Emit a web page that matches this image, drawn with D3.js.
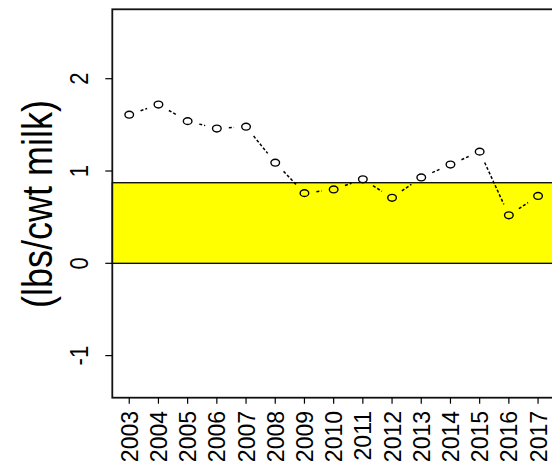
<!DOCTYPE html>
<html>
<head>
<meta charset="utf-8">
<script src="https://cdn.jsdelivr.net/npm/d3@7"></script>
<style>
  html, body { margin: 0; padding: 0; background: #fff; }
  svg { display: block; }
  text { font-family: "Liberation Sans", Arial, sans-serif; fill: #000; }
</style>
</head>
<body>
<svg id="chart" width="552" height="464"></svg>
<script>
// Yearly values (lbs/cwt milk)
const years = [2003, 2004, 2005, 2006, 2007, 2008, 2009, 2010, 2011, 2012, 2013, 2014, 2015, 2016, 2017];
const values = [1.61, 1.72, 1.54, 1.46, 1.48, 1.09, 0.76, 0.80, 0.91, 0.71, 0.93, 1.07, 1.21, 0.52, 0.73];
// Target band
const bandLow = 0;
const bandHigh = 0.873;
const yTicks = [-1, 0, 1, 2];

const svg = d3.select("#chart");

const plot = { left: 112.3, right: 555, top: 9.3, bottom: 397.7 };

const x = d3.scaleLinear()
  .domain([years[0] - 0.58, years[years.length - 1] + 0.58])
  .range([plot.left, plot.right]);
const y = d3.scaleLinear()
  .domain([-1.456, 2.752])
  .range([plot.bottom, plot.top]);

// Target band
svg.append("rect")
  .attr("x", plot.left)
  .attr("y", y(bandHigh))
  .attr("width", plot.right - plot.left)
  .attr("height", y(bandLow) - y(bandHigh))
  .attr("fill", "#ffff00")
  .attr("stroke", "#000")
  .attr("stroke-width", 1.3);

// Plot frame
svg.append("rect")
  .attr("x", plot.left)
  .attr("y", plot.top)
  .attr("width", plot.right - plot.left)
  .attr("height", plot.bottom - plot.top)
  .attr("fill", "none")
  .attr("stroke", "#111")
  .attr("stroke-width", 1.8);

// Y axis ticks and labels (parallel to axis)
const yAxis = svg.append("g");
yAxis.selectAll("line").data(yTicks).join("line")
  .attr("x1", plot.left - 7).attr("x2", plot.left)
  .attr("y1", d => y(d)).attr("y2", d => y(d))
  .attr("stroke", "#000").attr("stroke-width", 1.2);
yAxis.selectAll("text").data(yTicks).join("text")
  .attr("transform", d => `translate(88,${y(d)}) scale(1.15,1) rotate(-90)`)
  .attr("text-anchor", "middle")
  .attr("font-size", 22)
  .text(d => d);

// X axis ticks and vertical year labels
const xAxis = svg.append("g");
xAxis.selectAll("line").data(years).join("line")
  .attr("x1", d => x(d)).attr("x2", d => x(d))
  .attr("y1", plot.bottom).attr("y2", plot.bottom + 6)
  .attr("stroke", "#000").attr("stroke-width", 1.2);
xAxis.selectAll("text").data(years).join("text")
  .attr("transform", d => `translate(${x(d) + 8.5},411) scale(1.02,1) rotate(-90)`)
  .attr("text-anchor", "end")
  .attr("font-size", 23)
  .text(d => d);

// Axis title
svg.append("text")
  .attr("transform", `translate(52,204) scale(1.18,1) rotate(-90)`)
  .attr("text-anchor", "middle")
  .attr("font-size", 36)
  .text("(lbs/cwt milk)");

// Connecting segments, trimmed short of each point marker
const gap = 12;
const pts = years.map((yr, i) => [x(yr), y(values[i])]);
const segs = d3.pairs(pts).map(([a, b]) => {
  const dx = b[0] - a[0], dy = b[1] - a[1];
  const len = Math.hypot(dx, dy);
  const ux = dx / len, uy = dy / len;
  return len > 2 * gap ? [a[0] + ux * gap, a[1] + uy * gap, b[0] - ux * gap, b[1] - uy * gap] : null;
}).filter(Boolean);

svg.append("g").selectAll("line").data(segs).join("line")
  .attr("x1", d => d[0]).attr("y1", d => d[1])
  .attr("x2", d => d[2]).attr("y2", d => d[3])
  .attr("stroke", "#000")
  .attr("stroke-width", 1.5)
  .attr("stroke-dasharray", "3,2");

// Open circle markers
svg.append("g").selectAll("ellipse").data(pts).join("ellipse")
  .attr("cx", d => d[0]).attr("cy", d => d[1])
  .attr("rx", 4.3).attr("ry", 3.4)
  .attr("fill", "none")
  .attr("stroke", "#000")
  .attr("stroke-width", 1.4);
</script>
</body>
</html>
